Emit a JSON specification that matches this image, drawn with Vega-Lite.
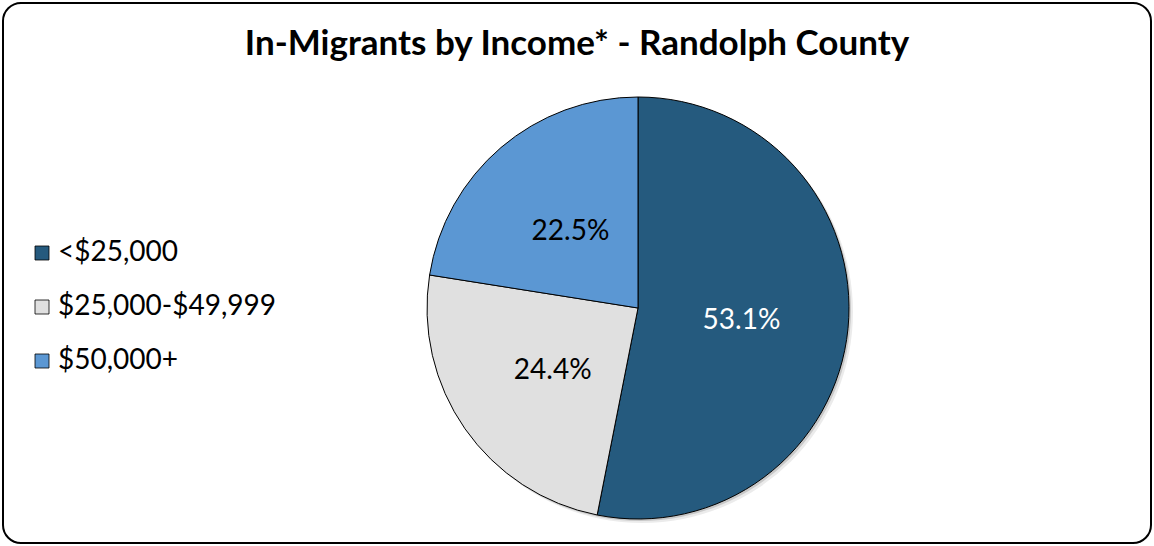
{
  "$schema": "https://vega.github.io/schema/vega-lite/v6.json",
  "width": 1154,
  "height": 546,
  "autosize": {"type": "fit", "contains": "padding"},
  "padding": 2,
  "background": "white",
  "config": {
    "view": {"stroke": null},
    "font": "Lato"
  },
  "title": {
    "text": "In-Migrants by Income* - Randolph County",
    "font": "Lato",
    "fontSize": 35,
    "fontWeight": "bold",
    "color": "#000000",
    "anchor": "middle",
    "frame": "group",
    "offset": -56,
    "baseline": "alphabetic",
    "dy": 32
  },
  "datasets": {
    "incomes": [
      {"income": "<$25,000", "share": 53.1, "label": "53.1%", "rank": 1},
      {"income": "$25,000-$49,999", "share": 24.4, "label": "24.4%", "rank": 2},
      {"income": "$50,000+", "share": 22.5, "label": "22.5%", "rank": 3}
    ],
    "frame": [{"item": "frame"}]
  },
  "layer": [
    {
      "data": {"name": "frame"},
      "mark": {"type": "rect", "filled": false, "fill": null, "stroke": "#000000", "strokeWidth": 2, "cornerRadius": 18},
      "encoding": {}
    },
    {
      "data": {"name": "frame"},
      "mark": {"type": "arc", "outerRadius": 211, "xOffset": 65, "yOffset": 39, "fill": "#000000", "opacity": 0.08, "stroke": null},
      "encoding": {}
    },
    {
      "data": {"name": "frame"},
      "mark": {"type": "arc", "outerRadius": 211, "xOffset": 63, "yOffset": 37, "fill": "#000000", "opacity": 0.15, "stroke": null},
      "encoding": {}
    },
    {
      "data": {"name": "incomes"},
      "mark": {"type": "arc", "outerRadius": 211, "xOffset": 61, "yOffset": 35, "stroke": "#000000", "strokeWidth": 1},
      "encoding": {
        "theta": {"field": "share", "type": "quantitative", "stack": true},
        "order": {"field": "rank", "type": "quantitative"},
        "color": {
          "field": "income",
          "type": "nominal",
          "scale": {
            "domain": ["<$25,000", "$25,000-$49,999", "$50,000+"],
            "range": ["#255A7E", "#E0E0E0", "#5B97D3"]
          },
          "legend": {
            "orient": "none",
            "legendX": 25,
            "legendY": 236,
            "title": null,
            "symbolType": "square",
            "symbolSize": 196,
            "symbolStrokeColor": "#000000",
            "symbolStrokeWidth": 0.8,
            "labelFont": "Lato",
            "labelFontSize": 28,
            "labelColor": "#000000",
            "labelOffset": 2,
            "rowPadding": 26,
            "labelLimit": 400
          }
        }
      }
    },
    {
      "data": {"name": "incomes"},
      "mark": {"type": "text", "radius": 104, "xOffset": 61, "yOffset": 35, "dy": 3, "font": "Lato", "fontSize": 28},
      "encoding": {
        "theta": {"field": "share", "type": "quantitative", "stack": true},
        "order": {"field": "rank", "type": "quantitative"},
        "text": {"field": "label", "type": "nominal"},
        "color": {
          "condition": {"test": "datum.income === '<$25,000'", "value": "#ffffff"},
          "value": "#000000"
        }
      }
    }
  ]
}
